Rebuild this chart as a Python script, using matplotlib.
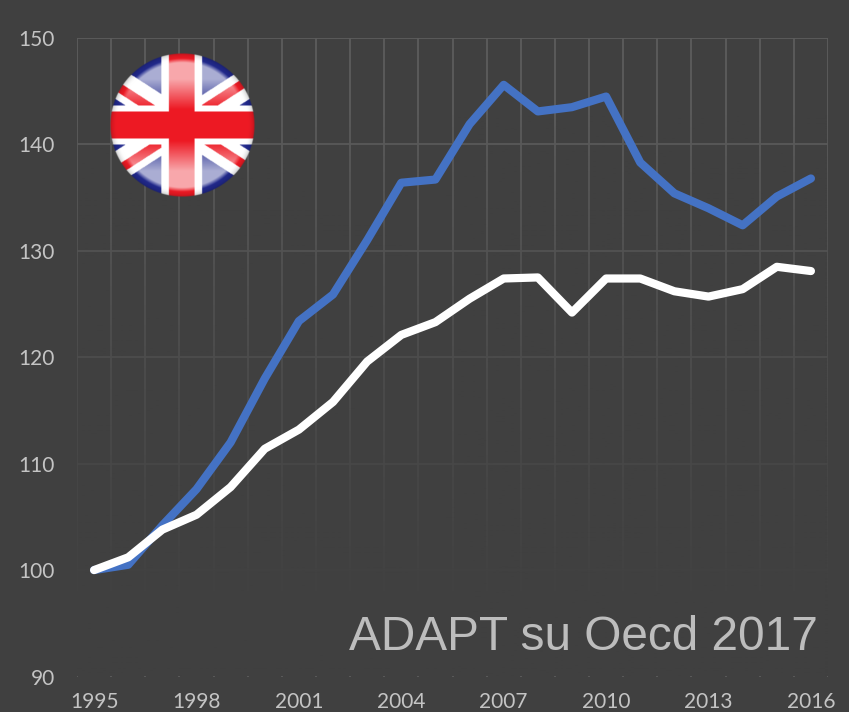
import numpy as np
import matplotlib
matplotlib.use("Agg")
import matplotlib.pyplot as plt

years = list(range(1995, 2017))
uk_blue = [100, 100.5, 104.2, 107.6, 112, 118, 123.4, 125.9, 131, 136.4, 136.7,
           141.9, 145.6, 143.1, 143.5, 144.5, 138.3, 135.4, 134, 132.4, 135.1, 136.8]
uk_white = [100, 101.2, 103.8, 105.2, 107.8, 111.4, 113.2, 115.8, 119.6, 122.1, 123.3,
            125.5, 127.4, 127.5, 124.2, 127.4, 127.4, 126.2, 125.7, 126.4, 128.5, 128.1]
y_ticks = [90, 100, 110, 120, 130, 140, 150]
x_tick_years = [1995, 1998, 2001, 2004, 2007, 2010, 2013, 2016]
source = "ADAPT su Oecd 2017"

BG = "#404040"
W, H = 849, 712
fig = plt.figure(figsize=(W / 100, H / 100), dpi=100, facecolor=BG)
ax = fig.add_axes([77 / W, 1 - 676.5 / H, (828 - 77) / W, (676.5 - 38) / H], facecolor=BG)

for x in np.arange(1994.5, 2017):
    ax.axvline(x, color="#5c5c5c", lw=1.3, zorder=1)
for y in y_ticks[1:]:
    ax.axhline(y, color="#5c5c5c", lw=1.3, zorder=1)

# grid fades into the background towards the bottom
g = np.linspace(0, 1, 256)
alpha = np.clip((g - 0.12) / 0.78, 0, 1) ** 0.85
rgba = np.zeros((256, 1, 4))
rgba[..., :3] = matplotlib.colors.to_rgb(BG)
rgba[..., 3] = alpha[:, None]
ax.imshow(rgba, extent=[1994.5, 2016.5, 90, 150], aspect="auto", origin="upper", zorder=1.5)
ax.set_xlim(1994.5, 2016.5)
ax.set_ylim(90, 150)

ax.plot(years, uk_blue, color="#4472C4", lw=5.9, solid_capstyle="round", solid_joinstyle="round", zorder=3)
ax.plot(years, uk_white, color="white", lw=5.9, solid_capstyle="round", solid_joinstyle="round", zorder=4)

for s in ax.spines.values():
    s.set_visible(False)
ax.set_yticks(y_ticks)
ax.set_xticks(x_tick_years)
ax.tick_params(length=0, labelcolor="#c4c4c4", labelsize=15, pad=0)
ax.tick_params(axis="y", pad=16)
ax.tick_params(axis="x", pad=11)
for lab in ax.get_xticklabels() + ax.get_yticklabels():
    lab.set_family("Lato")

fig.text(818 / W, 1 - 650 / H, source, ha="right", va="baseline", color="#bdbdbd",
         fontsize=34.4, family="Liberation Sans")

# glossy flag badge
cx, cy, R = 181.5, 125, 72
fa = fig.add_axes([(cx - R - 1) / W, 1 - (cy + R + 1) / H, (2 * R + 2) / W, (2 * R + 2) / H])
fa.axis("off")
n = 2 * (2 * R + 2)
v, u = np.mgrid[-1:1:n * 1j, -1:1:n * 1j]
u = u * (R + 1) / R
v = v * (R + 1) / R
navy = np.array([0.13, 0.16, 0.55])
white = np.array([1, 1, 1.0])
red = np.array([0.93, 0.10, 0.14])
img = np.zeros((n, n, 3))
img[:] = navy
d1 = v - 0.65 * u
d2 = v + 0.65 * u
img[(np.abs(d1) < 0.24) | (np.abs(d2) < 0.24)] = white
ul = (u < 0) & (v < 0) & (np.abs(d1 - 0.05) < 0.075)
ur = (u > 0) & (v < 0) & (np.abs(d2 + 0.03) < 0.075)
ll = (u < 0) & (v > 0) & (np.abs(d2 - 0.05) < 0.075)
lr = (u > 0) & (v > 0) & (np.abs(d1) < 0.075)
img[ul | ur | ll | lr] = red
img[(np.abs(u + 0.01) < 0.28) | (np.abs(v) < 0.27)] = white
img[(np.abs(u + 0.01) < 0.18) | (np.abs(v) < 0.185)] = red
rr = np.sqrt(u ** 2 + v ** 2)
# gloss: pale highlights top and bottom, leaving the rim saturated
gloss = np.clip((np.abs(v) - 0.22) / 0.42, 0, 1) * 0.62
gloss = gloss * np.clip((0.93 - rr) / 0.06, 0, 1)
img = img * (1 - gloss[..., None]) + white * gloss[..., None]
# faint darkening at the lower rim
rim = np.clip((rr - 0.9) / 0.1, 0, 1) ** 2 * 0.2
img = img * (1 - rim[..., None])
a = np.clip((1 - rr) * n / 2, 0, 1)
fa.imshow(np.dstack([img, a]), interpolation="bilinear", aspect="auto")

fig.savefig("out.png", dpi=100, facecolor=BG)
